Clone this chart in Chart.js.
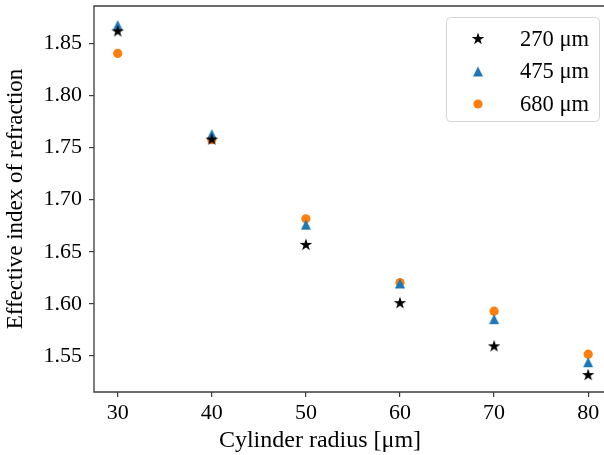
<!DOCTYPE html>
<html>
<head>
	<script src="https://cdn.jsdelivr.net/npm/chart.js@4.4.1/dist/chart.umd.min.js"></script>
	<title>Effective index of refraction</title>
	<style>
		html, body { margin: 0; padding: 0; background: #fff; }
		#wrap { width: 604px; height: 455px; }
	</style>
</head>
<body>
<div id="wrap"><canvas id="chart" width="604" height="455"></canvas></div>
<script type="text/javascript">
	// values
	const radius = [30, 40, 50, 60, 70, 80];
	const n270 = [1.8615, 1.7577, 1.6566, 1.6007, 1.5592, 1.5316];
	const n475 = [1.8676, 1.7628, 1.6760, 1.6196, 1.5853, 1.5440];
	const n680 = [1.8404, 1.7576, 1.6817, 1.6204, 1.5930, 1.5517];
	const seriesLabels = ['270 \u03bcm', '475 \u03bcm', '680 \u03bcm'];
	const xTicks = [30, 40, 50, 60, 70, 80];
	const yTicks = [1.55, 1.60, 1.65, 1.70, 1.75, 1.80, 1.85];
	const xTitle = 'Cylinder radius [\u03bcm]';
	const yTitle = 'Effective index of refraction';

	const FONT = "'Liberation Serif', 'DejaVu Serif', serif";

	// filled 5 point star, like matplotlib '*'
	function starImage(R, color) {
		const c = document.createElement('canvas');
		const s = Math.ceil(R * 2 + 2);
		c.width = s; c.height = s;
		const g = c.getContext('2d');
		const cx = s / 2, cy = s / 2, r = R * 0.382;
		g.beginPath();
		for (let i = 0; i < 10; i++) {
			const rr = i % 2 ? r : R;
			const a = -Math.PI / 2 + i * Math.PI / 5;
			const px = cx + rr * Math.cos(a), py = cy + rr * Math.sin(a);
			if (i === 0) g.moveTo(px, py); else g.lineTo(px, py);
		}
		g.closePath();
		g.fillStyle = color;
		g.fill();
		return c;
	}
	// triangle_up with box-centred shape, like matplotlib '^'
	function triImage(h, color) {
		const c = document.createElement('canvas');
		const s = Math.ceil(h + 2);
		c.width = s; c.height = s;
		const g = c.getContext('2d');
		const cx = s / 2, cy = s / 2;
		g.beginPath();
		g.moveTo(cx, cy - h / 2);
		g.lineTo(cx + h / 2, cy + h / 2);
		g.lineTo(cx - h / 2, cy + h / 2);
		g.closePath();
		g.fillStyle = color;
		g.fill();
		return c;
	}

	const starPt = starImage(6.6, '#000000');
	const triPt = triImage(10, '#1f77b4');

	function pts(ys) {
		return radius.map((x, i) => ({ x: x, y: ys[i] }));
	}

	function noPad(scale) {
		scale.paddingTop = 0; scale.paddingBottom = 0;
		scale.paddingLeft = 0; scale.paddingRight = 0;
	}

	// axes frame: left, top and bottom spines (right one is cut off in the picture)
	// plus the x label, which sits left of the axis centre in the picture
	const framePlugin = {
		id: 'frame',
		afterDatasetsDraw(chart) {
			const a = chart.chartArea, g = chart.ctx;
			g.save();
			g.strokeStyle = '#3a3a3a';
			g.lineWidth = 1.3;
			g.beginPath();
			g.moveTo(chart.width, a.top);
			g.lineTo(a.left, a.top);
			g.lineTo(a.left, a.bottom);
			g.lineTo(chart.width, a.bottom);
			g.stroke();
			g.fillStyle = '#000';
			g.font = '24px ' + FONT;
			g.textAlign = 'center';
			g.textBaseline = 'middle';
			g.fillText(xTitle, 320, 441);
			g.restore();
		}
	};

	// boxed legend in the upper right
	const legendPlugin = {
		id: 'boxLegend',
		afterDraw(chart) {
			const g = chart.ctx;
			const x0 = 446, y0 = 17, w = 153, h = 104;
			g.save();
			g.beginPath();
			g.roundRect(x0 + 0.5, y0 + 0.5, w, h, 4);
			g.fillStyle = 'rgba(255,255,255,0.8)';
			g.fill();
			g.strokeStyle = '#d6d6d6';
			g.lineWidth = 1;
			g.stroke();
			chart.data.datasets.forEach((ds, i) => {
				const cy = 39 + i * 32.5;
				const st = ds.pointStyle;
				if (typeof st === 'string') {
					g.beginPath();
					g.arc(478, cy, ds.pointRadius, 0, Math.PI * 2);
					g.fillStyle = ds.backgroundColor;
					g.fill();
				} else {
					g.drawImage(st, 478 - st.width / 2, cy - st.height / 2);
				}
				g.fillStyle = '#000';
				g.font = '22.5px ' + FONT;
				g.textAlign = 'left';
				g.textBaseline = 'middle';
				g.fillText(ds.label, 520, cy + 1);
			});
			g.restore();
		}
	};

	const ctx = document.getElementById('chart').getContext('2d');
	const myChart = new Chart(ctx, {
		type: 'scatter',
		data: {
			datasets: [{
				label: seriesLabels[0],
				data: pts(n270),
				pointStyle: starPt,
				backgroundColor: '#000000',
				borderColor: '#000000'
			}, {
				label: seriesLabels[1],
				data: pts(n475),
				pointStyle: triPt,
				backgroundColor: '#1f77b4',
				borderColor: '#1f77b4'
			}, {
				label: seriesLabels[2],
				data: pts(n680),
				pointStyle: 'circle',
				pointRadius: 4.6,
				borderWidth: 0,
				backgroundColor: '#ff7f0e',
				borderColor: '#ff7f0e'
			}]
		},
		options: {
			responsive: false,
			animation: false,
			devicePixelRatio: 1,
			layout: { padding: { top: 6, right: 0, left: 0, bottom: 0 } },
			plugins: {
				legend: { display: false },
				tooltip: { enabled: false }
			},
			scales: {
				x: {
					type: 'linear',
					min: 27.48,
					max: 81.15,
					afterBuildTicks(scale) { scale.ticks = xTicks.map(v => ({ value: v })); },
					afterFit(scale) { scale.height = 63; noPad(scale); },
					border: { display: false },
					grid: { drawOnChartArea: false, drawTicks: true, tickLength: 5, color: '#3a3a3a', lineWidth: 1.2 },
					ticks: { color: '#000', padding: 3, font: { family: FONT, size: 22 }, maxRotation: 0 },
					title: { display: false }
				},
				y: {
					type: 'linear',
					min: 1.5154,
					max: 1.8859,
					afterBuildTicks(scale) { scale.ticks = yTicks.map(v => ({ value: v })); },
					afterFit(scale) { scale.width = 94; noPad(scale); },
					border: { display: false },
					grid: { drawOnChartArea: false, drawTicks: true, tickLength: 5, color: '#3a3a3a', lineWidth: 1.2 },
					ticks: { color: '#000', padding: 7, font: { family: FONT, size: 22 }, callback: v => v.toFixed(2) },
					title: { display: true, text: yTitle, color: '#000', padding: { top: 2, bottom: 0 }, font: { family: FONT, size: 23 } }
				}
			}
		},
		plugins: [framePlugin, legendPlugin]
	});
</script>
</body>
</html>
